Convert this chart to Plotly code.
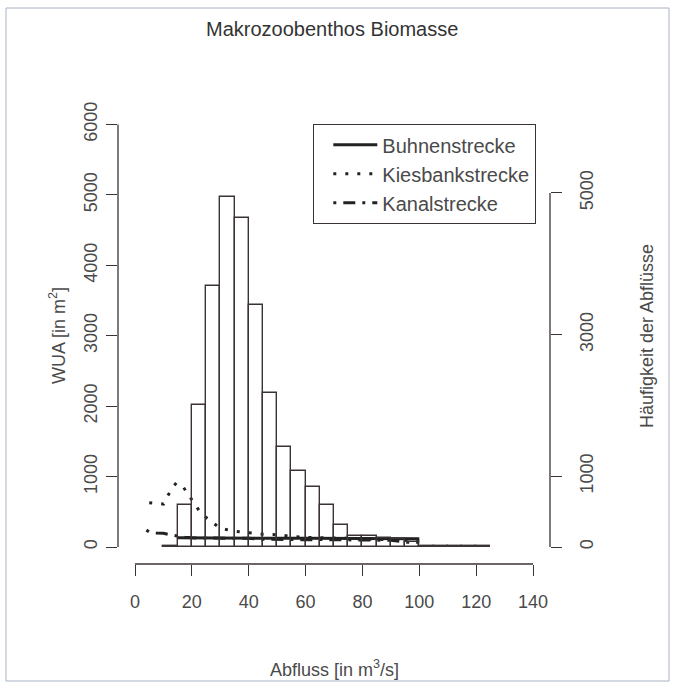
import plotly.graph_objects as go

# ---- data ----
bin_left = [10, 15, 20, 25, 30, 35, 40, 45, 50, 55, 60, 65, 70, 75, 80, 85, 90, 95,
            100, 105, 110, 115, 120]
bin_counts = [15, 590, 2000, 3680, 4950, 4650, 3420, 2180, 1410, 1070, 845, 590, 315,
              155, 150, 125, 110, 65, 20, 18, 15, 12, 10]
bin_width = 5

buhnen_x = [15, 20, 25, 30, 35, 40, 45, 50, 55, 60, 65, 70, 75, 80, 85, 90, 95, 100]
buhnen_y = [130, 128, 127, 126, 125, 125, 124, 124, 123, 123, 122, 122, 122, 121, 121,
            120, 120, 118]

kies_x = [5, 10, 12.5, 14.5, 17, 20, 22.5, 25, 27.5, 30, 35, 40, 45, 50, 55, 60, 65,
          70, 75, 80, 85, 90, 95, 100]
kies_y = [630, 610, 800, 910, 850, 660, 520, 420, 340, 265, 225, 205, 180, 175, 150,
          138, 130, 128, 125, 115, 105, 100, 90, 85]

kanal_x = [4, 5, 7.5, 10, 12.5, 15, 17.5, 20, 25, 30, 35, 40, 45, 50, 55, 60, 65, 70,
           75, 80, 85, 90, 95, 100]
kanal_y = [240, 215, 200, 195, 172, 150, 138, 130, 128, 127, 125, 123, 110, 105, 108,
           104, 106, 103, 100, 98, 96, 95, 70, 65]

left_ticks = [0, 1000, 2000, 3000, 4000, 5000, 6000]
right_ticks = [0, 1000, 3000, 5000]
x_ticks = [0, 20, 40, 60, 80, 100, 120, 140]

# ---- style ----
INK = "#3b3333"
TXT = "#4a4a4a"
FONT = "Liberation Sans, Arial, sans-serif"
W, H = 675, 687
L, R, T, B = 118, 125, 108, 123   # plot area 118..550 x 108..564
PW, PH = W - L - R, H - T - B


def px_x(p):
    return (p - L) / PW


def px_y(p):
    return (H - B - p) / PH


fig = go.Figure()

fig.add_trace(go.Bar(
    x=[b + bin_width / 2 for b in bin_left], y=bin_counts, width=bin_width,
    marker=dict(color="rgba(0,0,0,0)", line=dict(color=INK, width=1.4)),
    yaxis="y2", showlegend=False, hoverinfo="skip"))

fig.add_trace(go.Scatter(x=buhnen_x, y=buhnen_y, mode="lines", name="Buhnenstrecke",
                         line=dict(color="#222", width=3)))
fig.add_trace(go.Scatter(x=kies_x, y=kies_y, mode="lines", name="Kiesbankstrecke",
                         line=dict(color="#222", width=3, dash="3px,9px")))
fig.add_trace(go.Scatter(x=kanal_x, y=kanal_y, mode="lines", name="Kanalstrecke",
                         line=dict(color="#222", width=3, dash="3px,7px,12px,7px")))

shapes = [
    # R-style axis lines spanning only the tick range
    dict(type="line", xref="x", yref="paper", x0=x_ticks[0], x1=x_ticks[-1], y0=0, y1=0,
         line=dict(color=INK, width=1.3)),
    dict(type="line", xref="paper", yref="y", x0=0, x1=0, y0=left_ticks[0],
         y1=left_ticks[-1], line=dict(color=INK, width=1.3)),
    dict(type="line", xref="paper", yref="y2", x0=1, x1=1, y0=right_ticks[0],
         y1=right_ticks[-1], line=dict(color=INK, width=1.3)),
    # outer frame of the picture
    dict(type="rect", xref="paper", yref="paper", x0=px_x(6), x1=px_x(669),
         y0=px_y(681), y1=px_y(8), line=dict(color="#a9b2c4", width=1)),
]

annotations = [
    dict(text="Makrozoobenthos Biomasse", xref="paper", yref="paper",
         x=px_x(332), y=px_y(29), xanchor="center", yanchor="middle", showarrow=False,
         font=dict(family=FONT, size=20, color="#333333")),
    dict(text="Abfluss [in m<sup>3</sup>/s]", xref="paper", yref="paper",
         x=px_x(334), y=px_y(668), xanchor="center", yanchor="middle", showarrow=False,
         font=dict(family=FONT, size=18, color=TXT)),
    dict(text="WUA [in m<sup>2</sup>]", xref="paper", yref="paper",
         x=px_x(57), y=px_y(336), xanchor="center", yanchor="middle", showarrow=False,
         textangle=-90, font=dict(family=FONT, size=18, color=TXT)),
    dict(text="Häufigkeit der Abflüsse", xref="paper", yref="paper",
         x=px_x(647), y=px_y(336), xanchor="center", yanchor="middle", showarrow=False,
         textangle=-90, font=dict(family=FONT, size=18, color=TXT)),
]

fig.update_layout(
    width=W, height=H, margin=dict(l=L, r=R, t=T, b=B),
    paper_bgcolor="white", plot_bgcolor="white",
    font=dict(family=FONT, size=18, color=TXT),
    showlegend=True,
    legend=dict(x=px_x(313), y=px_y(124), xanchor="left", yanchor="top",
                bordercolor=INK, borderwidth=1.3, bgcolor="white",
                font=dict(family=FONT, size=20, color=TXT), indentation=14,
                itemwidth=44, tracegroupgap=0),
    xaxis=dict(range=[-5.98, 145.97], tickvals=x_ticks, ticks="outside", ticklen=11,
               tickcolor=INK, tickwidth=1.3, showgrid=False, zeroline=False,
               showline=False, ticklabelstandoff=10,
               tickfont=dict(family=FONT, size=18, color=TXT)),
    yaxis=dict(range=[-241, 6234], tickvals=left_ticks, ticks="outside", ticklen=11,
               tickcolor=INK, tickwidth=1.3, showgrid=False, zeroline=False,
               showline=False, tickangle=-90, ticklabelstandoff=2,
               tickfont=dict(family=FONT, size=18, color=TXT)),
    yaxis2=dict(range=[-240, 6200], tickvals=right_ticks, overlaying="y", side="right",
                ticks="outside", ticklen=11, tickcolor=INK, tickwidth=1.3,
                showgrid=False, zeroline=False, showline=False, tickangle=-90,
                ticklabelstandoff=9,
                tickfont=dict(family=FONT, size=18, color=TXT)),
    bargap=0,
    shapes=shapes, annotations=annotations,
)

fig.write_html("out.html")
